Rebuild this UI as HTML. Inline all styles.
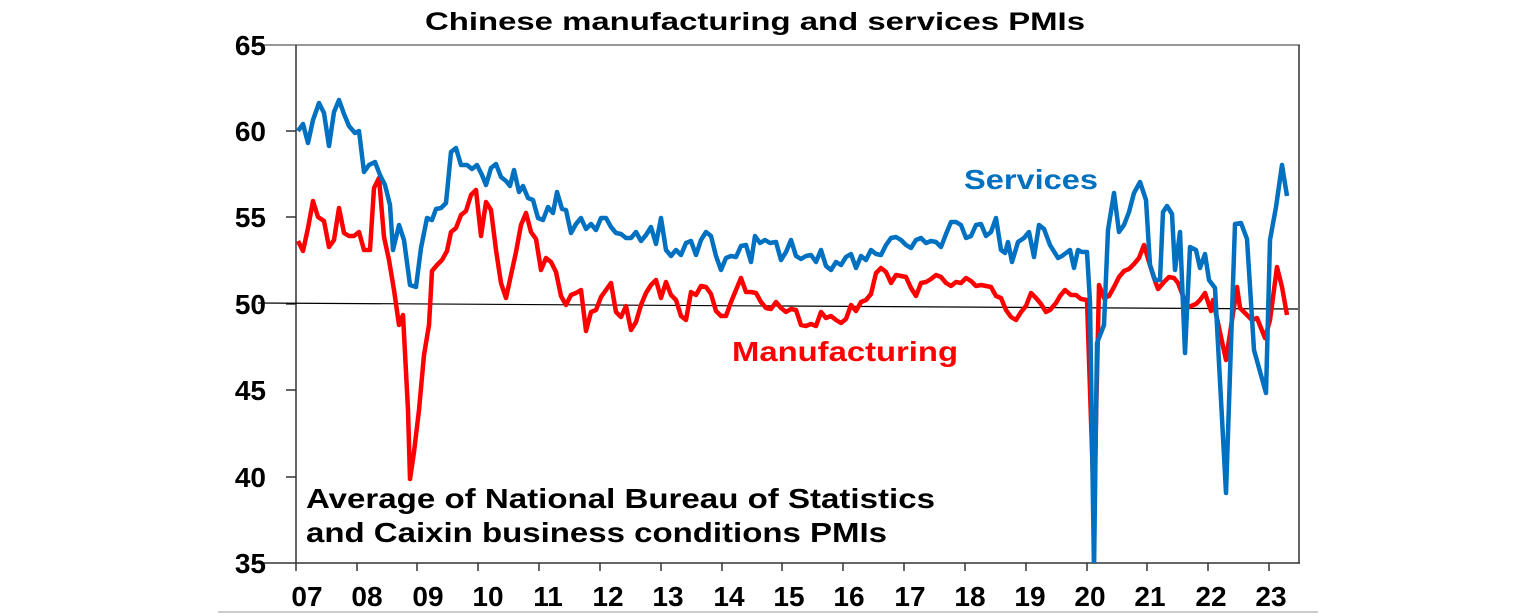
<!DOCTYPE html>
<html><head><meta charset="utf-8"><style>
html,body{margin:0;padding:0;background:#fff;}
svg{display:block;font-family:"Liberation Sans",Arial,sans-serif;font-weight:bold;}
</style></head><body>
<svg width="1536" height="616" viewBox="0 0 1536 616">
<defs><clipPath id="c"><rect x="296" y="45" width="1004" height="518"/></clipPath></defs>
<text x="425" y="30" font-size="25" textLength="660" lengthAdjust="spacingAndGlyphs">Chinese manufacturing and services PMIs</text>
<line x1="258" y1="45" x2="1300" y2="45" stroke="#777" stroke-width="1.5"/>
<line x1="1299" y1="45" x2="1299" y2="563" stroke="#333" stroke-width="1.5"/>
<line x1="296" y1="45" x2="296" y2="563" stroke="#333" stroke-width="1.5"/>
<line x1="258" y1="563" x2="1300" y2="563" stroke="#333" stroke-width="1.5"/>
<line x1="218" y1="612" x2="1318" y2="612" stroke="#bbb" stroke-width="1.5"/>
<g stroke="#333" stroke-width="1.5">
<line x1="286" y1="131" x2="296" y2="131"/><line x1="286" y1="217" x2="296" y2="217"/><line x1="286" y1="304" x2="296" y2="304"/><line x1="286" y1="390" x2="296" y2="390"/><line x1="286" y1="477" x2="296" y2="477"/>
<line x1="296" y1="563" x2="296" y2="571"/><line x1="357" y1="563" x2="357" y2="571"/><line x1="417" y1="563" x2="417" y2="571"/><line x1="478" y1="563" x2="478" y2="571"/><line x1="539" y1="563" x2="539" y2="571"/><line x1="600" y1="563" x2="600" y2="571"/><line x1="661" y1="563" x2="661" y2="571"/><line x1="722" y1="563" x2="722" y2="571"/><line x1="782" y1="563" x2="782" y2="571"/><line x1="843" y1="563" x2="843" y2="571"/><line x1="904" y1="563" x2="904" y2="571"/><line x1="965" y1="563" x2="965" y2="571"/><line x1="1026" y1="563" x2="1026" y2="571"/><line x1="1087" y1="563" x2="1087" y2="571"/><line x1="1147" y1="563" x2="1147" y2="571"/><line x1="1208" y1="563" x2="1208" y2="571"/><line x1="1269" y1="563" x2="1269" y2="571"/>
</g>
<line x1="258" y1="303" x2="1298" y2="309" stroke="#000" stroke-width="1.2"/>
<g font-size="28" text-anchor="end">
<text x="266" y="55">65</text><text x="266" y="141">60</text><text x="266" y="227">55</text><text x="266" y="314">50</text><text x="266" y="400">45</text><text x="266" y="487">40</text><text x="266" y="573">35</text>
</g>
<g font-size="28" text-anchor="middle">
<text x="307" y="606">07</text><text x="367" y="606">08</text><text x="428" y="606">09</text><text x="488" y="606">10</text><text x="548" y="606">11</text><text x="608" y="606">12</text><text x="668" y="606">13</text><text x="729" y="606">14</text><text x="789" y="606">15</text><text x="849" y="606">16</text><text x="910" y="606">17</text><text x="970" y="606">18</text><text x="1030" y="606">19</text><text x="1090" y="606">20</text><text x="1150" y="606">21</text><text x="1211" y="606">22</text><text x="1271" y="606">23</text>
</g>
<g clip-path="url(#c)" fill="none" stroke-width="4.5" stroke-linejoin="round">
<polyline stroke="#ff0000" points="298,241 303,251 308,228 313,201 318,217 324,221 329,247 334,240 339,208 344,233 349,236 354,236 359,232 364,250 370,250 374,188 379,178 384,237 389,260 394,290 399,325 403,315 408,410 410,479 414,452 419,410 424,355 429,325 432,271 437,265 442,260 447,251 451,232 456,228 461,215 466,211 471,195 476,190 481,236 486,202 491,210 496,250 501,283 506,298 511,275 516,252 521,225 526,213 531,232 536,239 541,270 546,258 551,262 556,272 561,296 566,305 571,295 576,293 581,290 586,331 591,312 596,310 601,297 606,290 611,283 616,312 621,317 626,306 631,330 636,322 641,305 646,293 651,285 656,280 661,298 666,282 671,295 676,300 681,316 686,320 691,292 696,295 701,286 706,287 711,294 716,311 721,316 726,316 731,302 736,290 741,278 746,292 751,292 756,293 761,302 766,308 771,309 776,302 781,308 786,312 791,309 796,310 801,325 806,326 811,324 816,326 821,312 826,318 831,316 836,320 841,323 846,319 851,305 856,311 861,302 866,300 871,294 876,273 881,268 886,272 891,283 896,275 901,276 906,277 911,288 916,296 921,283 926,282 931,279 936,275 941,277 946,283 951,286 956,282 961,283 966,278 971,281 976,286 981,285 986,286 991,287 996,296 1001,298 1006,310 1011,317 1016,320 1021,312 1026,306 1031,293 1036,298 1041,304 1046,312 1050,310 1056,303 1060,296 1065,290 1071,295 1076,295 1081,299 1087,300 1094,510 1099,285 1104,298 1109,296 1114,287 1119,277 1124,271 1129,269 1134,264 1139,258 1144,245 1149,262 1154,278 1158,289 1164,282 1169,277 1174,278 1178,283 1183,296 1186,308 1191,306 1196,304 1200,300 1205,293 1211,311 1213,300 1226,360 1237,287 1240,308 1245,313 1252,320 1257,318 1265,338 1270,320 1277,267 1282,287 1287,315"/>
<polyline stroke="#0070c0" points="298,131 303,124 308,143 313,120 319,103 324,113 329,146 334,112 339,100 344,114 349,126 355,133 359,131 364,172 369,165 375,162 380,175 385,185 390,205 393,250 399,225 404,240 410,285 416,287 421,248 427,218 432,220 436,209 441,208 446,203 451,152 456,148 461,165 467,165 472,169 477,165 482,175 486,185 491,168 496,164 501,177 506,181 510,186 514,170 519,192 523,186 528,198 533,200 538,218 543,220 548,207 553,213 557,192 562,209 566,210 571,233 576,224 581,218 586,229 591,224 596,230 601,218 606,218 611,227 616,233 621,234 626,238 631,238 636,232 641,241 646,235 651,227 656,244 661,218 666,250 671,256 676,250 681,255 686,243 691,241 696,255 701,240 706,232 711,236 716,256 721,270 726,258 731,256 736,257 741,246 746,245 751,262 755,236 760,243 765,240 770,243 776,242 781,260 786,252 791,240 796,256 801,259 806,256 811,255 816,262 821,250 826,266 831,270 836,262 841,265 846,257 851,254 856,268 861,256 866,260 871,250 876,254 881,255 886,245 891,238 896,237 901,240 906,245 911,248 916,240 921,238 926,243 931,241 936,242 941,247 946,234 951,222 956,222 961,225 966,238 971,236 976,225 981,224 986,236 991,232 996,218 1001,250 1005,253 1008,242 1012,262 1018,242 1024,238 1029,232 1034,257 1039,225 1044,229 1050,245 1058,258 1062,256 1066,253 1070,250 1074,268 1078,250 1082,252 1087,252 1090,302 1094,570 1097,343 1104,325 1108,230 1114,193 1119,232 1124,225 1129,212 1134,193 1140,182 1146,200 1150,265 1155,280 1160,280 1163,212 1167,206 1172,214 1175,270 1180,232 1185,353 1190,247 1196,250 1200,268 1205,254 1209,280 1215,288 1226,493 1235,224 1241,223 1247,239 1254,350 1266,393 1270,240 1276,207 1282,165 1287,196"/>
</g>
<text x="964" y="189" font-size="28" fill="#0070c0" textLength="134" lengthAdjust="spacingAndGlyphs">Services</text>
<text x="732" y="361" font-size="28" fill="#ff0000" textLength="226" lengthAdjust="spacingAndGlyphs">Manufacturing</text>
<text x="306" y="508" font-size="28" textLength="629" lengthAdjust="spacingAndGlyphs">Average of National Bureau of Statistics</text>
<text x="306" y="542" font-size="28" textLength="581" lengthAdjust="spacingAndGlyphs">and Caixin business conditions PMIs</text>
</svg>
</body></html>
